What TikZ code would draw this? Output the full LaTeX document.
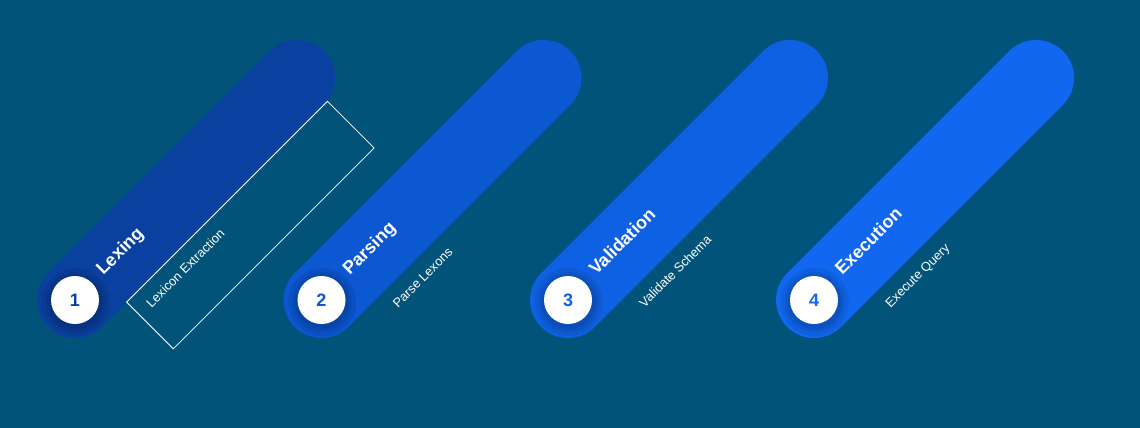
\documentclass[tikz,border=0pt]{standalone}
\usepackage{fontspec}
\setmainfont{Liberation Sans}

\definecolor{bgblue}{HTML}{02537A}
\definecolor{stepA}{HTML}{0A40A0}
\definecolor{stepB}{HTML}{0C57D2}
\definecolor{stepC}{HTML}{0F61E4}
\definecolor{stepD}{HTML}{1167F0}

\begin{document}
\begin{tikzpicture}[x=1pt,y=-1pt,
	pill/.style={line width=76pt,line cap=round},
	halo/.style={fill=black,fill opacity=0.07},
	numdot/.style={circle,fill=white,minimum size=48pt,inner sep=0pt,
		font=\bfseries\fontsize{18}{18}\selectfont},
	steptitle/.style={anchor=base west,inner sep=0pt,transform shape,text=white,
		font=\bfseries\fontsize{18}{18}\selectfont},
	stepnote/.style={anchor=base west,inner sep=0pt,transform shape,text=white,
		font=\fontsize{12.8}{12.8}\selectfont}]
	\useasboundingbox[fill=bgblue] (0,0) rectangle (1140,428);

	% Lexing
	\begin{scope}[shift={(75,300)},rotate=45]
		\draw[pill,stepA] (0,0) -- (314,0);
		\foreach \r in {34,30,27} \fill[halo] (-1,2) circle (\r);
		\node[numdot,text=stepA] (n1) at (0,0) {1};
		\node[steptitle] (t1) at (37,3) {Lexing};
		\node[stepnote] (s1) at (48,60) {Lexicon Extraction};
		\draw[white,line width=0.8pt] (35,38) rectangle (319,104);
	\end{scope}

	% Parsing
	\begin{scope}[shift={(321.5,300)},rotate=45]
		\draw[pill,stepB] (0,0) -- (314,0);
		\foreach \r in {34,30,27} \fill[halo] (-1,2) circle (\r);
		\node[numdot,text=stepB] (n2) at (0,0) {2};
		\node[steptitle] (t2) at (37,3) {Parsing};
		\node[stepnote] (s2) at (48,60) {Parse Lexons};
	\end{scope}

	% Validation
	\begin{scope}[shift={(568,300)},rotate=45]
		\draw[pill,stepC] (0,0) -- (314,0);
		\foreach \r in {34,30,27} \fill[halo] (-1,2) circle (\r);
		\node[numdot,text=stepC] (n3) at (0,0) {3};
		\node[steptitle] (t3) at (37,3) {Validation};
		\node[stepnote] (s3) at (48,60) {Validate Schema};
	\end{scope}

	% Execution
	\begin{scope}[shift={(814,300)},rotate=45]
		\draw[pill,stepD] (0,0) -- (314,0);
		\foreach \r in {34,30,27} \fill[halo] (-1,2) circle (\r);
		\node[numdot,text=stepD] (n4) at (0,0) {4};
		\node[steptitle] (t4) at (37,3) {Execution};
		\node[stepnote] (s4) at (48,60) {Execute Query};
	\end{scope}
\end{tikzpicture}
\end{document}
